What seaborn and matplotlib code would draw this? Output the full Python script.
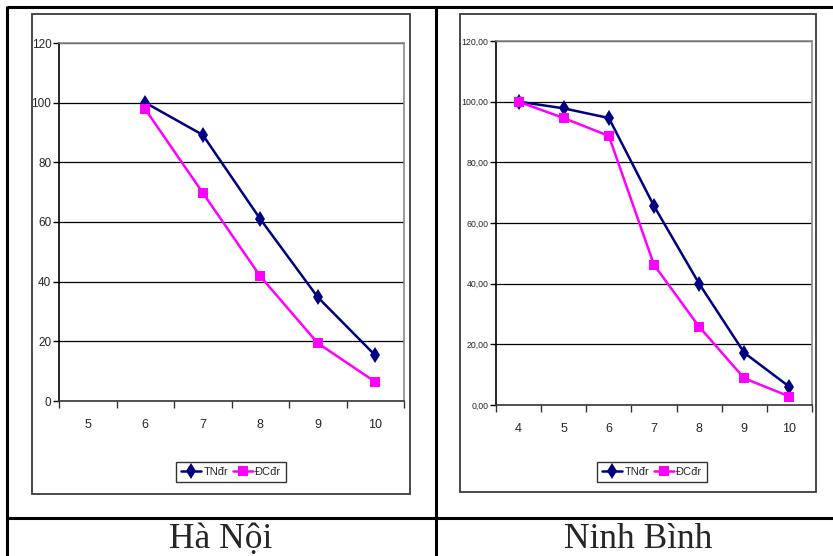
import numpy as np
import pandas as pd
import matplotlib
matplotlib.use("Agg")
import matplotlib.pyplot as plt
from matplotlib.patches import Rectangle
from matplotlib.lines import Line2D
import seaborn as sns

# ---- data ----
hn_categories = ["5", "6", "7", "8", "9", "10"]
hn_tn = [np.nan, 100.0, 89.2, 61.0, 34.8, 15.3]
hn_dc = [np.nan, 97.8, 69.8, 41.8, 19.4, 6.4]

nb_categories = ["4", "5", "6", "7", "8", "9", "10"]
nb_tn = [100.0, 97.8, 94.6, 65.6, 40.0, 17.2, 6.0]
nb_dc = [100.0, 94.6, 88.7, 46.2, 25.8, 8.8, 2.8]

series_names = ["TNđr", "ĐCđr"]
hn_yticks = [0, 20, 40, 60, 80, 100, 120]
hn_yticklabels = ["0", "20", "40", "60", "80", "100", "120"]
nb_yticks = [0, 20, 40, 60, 80, 100, 120]
nb_yticklabels = ["0,00", "20,00", "40,00", "60,00", "80,00", "100,00", "120,00"]
panel_titles = ["Hà Nội", "Ninh Bình"]

sns.set_theme(style="white")
plt.rcParams["font.family"] = ["Liberation Sans Narrow", "Liberation Sans", "DejaVu Sans"]

W, H = 833, 556
fig = plt.figure(figsize=(W / 100, H / 100), dpi=100)
fig.patch.set_facecolor("white")


def fx(px):
    return px / W


def fy(py):
    return 1 - py / H


def rect(x0, y0, x1, y1):
    return [fx(x0), fy(y1), fx(x1) - fx(x0), fy(y0) - fy(y1)]


# table lines
tbl = dict(color="black", lw=2.2, transform=fig.transFigure, solid_capstyle="butt")
fig.add_artist(Line2D([fx(7), fx(833)], [fy(7), fy(7)], **tbl))
fig.add_artist(Line2D([fx(7), fx(7)], [fy(6), fy(556)], **tbl))
fig.add_artist(Line2D([fx(436), fx(436)], [fy(6), fy(556)], **tbl))
fig.add_artist(Line2D([fx(7), fx(833)], [fy(518), fy(518)], **tbl))

# chart boxes
for (x0, y0, x1, y1) in [(32, 14, 410, 494), (460, 14, 816, 492)]:
    fig.add_artist(Rectangle((fx(x0), fy(y1)), fx(x1) - fx(x0), fy(y0) - fy(y1),
                             transform=fig.transFigure, fill=False,
                             edgecolor="#3a3a3a", lw=1.3))

palette = {"TNđr": "#000080", "ĐCđr": "#FF00FF"}
markers = {"TNđr": "d", "ĐCđr": "s"}


def draw(ax_rect, cats, tn, dc, yticks, yticklabels, ytick_fs, legend_center):
    ax = fig.add_axes(ax_rect)
    pos = list(range(len(cats)))
    df = pd.DataFrame({
        "pos": pos * 2,
        "value": list(tn) + list(dc),
        "series": [series_names[0]] * len(cats) + [series_names[1]] * len(cats),
    }).dropna()
    sns.lineplot(data=df, x="pos", y="value", hue="series", style="series",
                 palette=palette, markers=markers, dashes=False, ax=ax,
                 legend=False, markeredgewidth=0)
    for ln in ax.get_lines():
        ln.set_linewidth(1.8)
        if ln.get_marker() == "d":
            ln.set_markersize(8.5)
        else:
            ln.set_markersize(7.5)
    ax.set_xlim(-0.5, len(cats) - 0.5)
    ax.set_ylim(0, 120)
    ax.set_xlabel("")
    ax.set_ylabel("")
    for v in yticks[1:]:
        ax.axhline(v, color="black", lw=0.9, zorder=0)
    ax.set_yticks(yticks)
    ax.set_yticklabels(yticklabels, fontsize=ytick_fs)
    ax.set_xticks(pos)
    ax.set_xticklabels(cats, fontsize=9)
    ax.set_xticks([p - 0.5 for p in pos] + [len(cats) - 0.5], minor=True)
    ax.tick_params(axis="x", which="major", length=0, pad=13)
    ax.tick_params(axis="x", which="minor", length=5, width=1, color="#333333", direction="out")
    ax.tick_params(axis="y", which="major", length=4, width=1, color="black", direction="out", pad=1.5)
    ax.tick_params(axis="x", bottom=True, which="both")
    ax.tick_params(axis="y", left=True)
    for s in ["top", "right"]:
        ax.spines[s].set_color("#8a8a8a")
        ax.spines[s].set_linewidth(1.2)
    ax.spines["left"].set_color("black")
    ax.spines["left"].set_linewidth(1.2)
    ax.spines["bottom"].set_color("#333333")
    ax.spines["bottom"].set_linewidth(1.2)
    ax.set_facecolor("white")
    handles = [Line2D([], [], color=palette[n], marker=markers[n], lw=1.8,
                      markersize=7 if markers[n] == "s" else 8, markeredgewidth=0)
               for n in series_names]
    fig.legend(handles, series_names, loc="center",
               bbox_to_anchor=(fx(legend_center[0]), fy(legend_center[1])),
               ncol=2, frameon=True, fancybox=False, edgecolor="black",
               fontsize=8, handlelength=1.8, handletextpad=0.2,
               columnspacing=0.4, borderpad=0.45, borderaxespad=0)
    return ax


ax1 = draw(rect(59, 43, 404, 401), hn_categories, hn_tn, hn_dc,
           hn_yticks, hn_yticklabels, 8.5, (231, 472))
ax2 = draw(rect(496, 41, 812, 405), nb_categories, nb_tn, nb_dc,
           nb_yticks, nb_yticklabels, 6.3, (652, 472))

for title, cx in zip(panel_titles, [221, 638]):
    fig.text(fx(cx), fy(540), title, ha="center", va="center",
             fontsize=25.5, family=["Liberation Serif", "DejaVu Serif"])

fig.savefig("out.png", dpi=100, facecolor="white")
